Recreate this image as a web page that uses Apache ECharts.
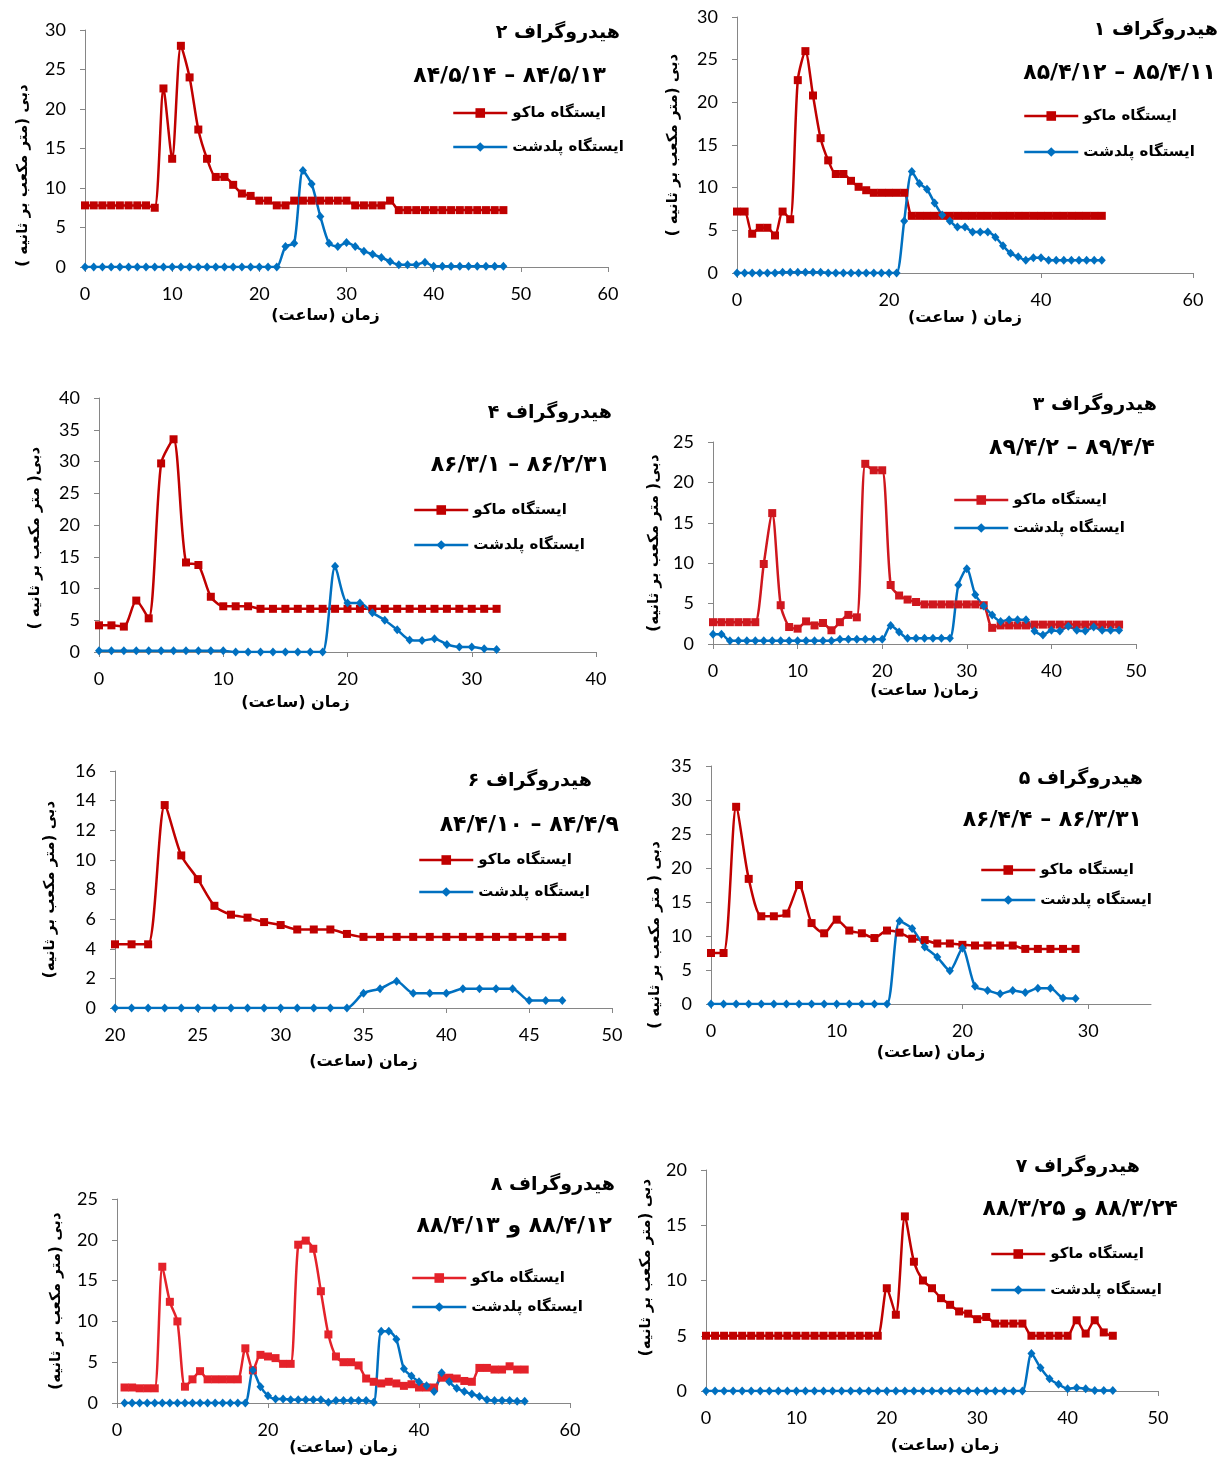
<!DOCTYPE html>
<html><head><meta charset="utf-8">
<script src="https://cdn.jsdelivr.net/npm/echarts@6/dist/echarts.min.js"></script>
<style>html,body{margin:0;padding:0;background:#fff}#c{width:1219px;height:1461px}</style>
</head><body><div id="c"></div>
<script>
// ---------- DATA ----------
const seriesNames = ['ایستگاه ماکو', 'ایستگاه پلدشت'];

// Hydrograph 1
const h1Hours = [0,1,2,3,4,5,6,7,8,9,10,11,12,13,14,15,16,17,18,19,20,21,22,23,24,25,26,27,28,29,30,31,32,33,34,35,36,37,38,39,40,41,42,43,44,45,46,47,48];
const h1Mako = [7.2,7.2,4.6,5.3,5.3,4.4,7.2,6.3,22.6,26.0,20.8,15.8,13.2,11.6,11.6,10.8,10.1,9.7,9.4,9.4,9.4,9.4,9.4,6.7,6.7,6.7,6.7,6.7,6.7,6.7,6.7,6.7,6.7,6.7,6.7,6.7,6.7,6.7,6.7,6.7,6.7,6.7,6.7,6.7,6.7,6.7,6.7,6.7,6.7];
const h1Poldasht = [0,0,0,0,0,0,0.1,0.1,0.1,0.1,0.1,0.1,0,0,0,0,0,0,0,0,0,0,6.1,11.9,10.5,9.8,8.2,6.8,6.1,5.4,5.4,4.8,4.8,4.8,4.2,3.2,2.3,1.9,1.5,1.8,1.8,1.5,1.5,1.5,1.5,1.5,1.5,1.5,1.5];

// Hydrograph 2
const h2Hours = [0,1,2,3,4,5,6,7,8,9,10,11,12,13,14,15,16,17,18,19,20,21,22,23,24,25,26,27,28,29,30,31,32,33,34,35,36,37,38,39,40,41,42,43,44,45,46,47,48];
const h2Mako = [7.8,7.8,7.8,7.8,7.8,7.8,7.8,7.8,7.5,22.6,13.7,28.0,24.0,17.4,13.7,11.4,11.4,10.4,9.3,9.0,8.4,8.4,7.8,7.8,8.4,8.4,8.4,8.4,8.4,8.4,8.4,7.8,7.8,7.8,7.8,8.4,7.2,7.2,7.2,7.2,7.2,7.2,7.2,7.2,7.2,7.2,7.2,7.2,7.2];
const h2Poldasht = [0,0,0,0,0,0,0,0,0,0,0,0,0,0,0,0,0,0,0,0,0,0,0,2.6,3.0,12.2,10.5,6.4,3.0,2.6,3.1,2.6,2.0,1.6,1.2,0.7,0.3,0.3,0.3,0.6,0.1,0.1,0.1,0.1,0.1,0.1,0.1,0.1,0.1];

// Hydrograph 3
const h3Hours = [0,1,2,3,4,5,6,7,8,9,10,11,12,13,14,15,16,17,18,19,20,21,22,23,24,25,26,27,28,29,30,31,32,33,34,35,36,37,38,39,40,41,42,43,44,45,46,47,48];
const h3Mako = [2.7,2.7,2.7,2.7,2.7,2.7,9.9,16.2,4.8,2.1,1.9,2.8,2.3,2.6,1.7,2.7,3.6,3.3,22.3,21.5,21.5,7.3,6.0,5.5,5.2,4.9,4.9,4.9,4.9,4.9,4.9,4.9,4.8,2.0,2.3,2.3,2.3,2.3,2.4,2.4,2.4,2.4,2.4,2.4,2.4,2.4,2.4,2.4,2.4];
const h3Poldasht = [1.2,1.2,0.4,0.4,0.4,0.4,0.4,0.4,0.4,0.4,0.4,0.4,0.4,0.4,0.4,0.6,0.6,0.6,0.6,0.6,0.6,2.3,1.5,0.7,0.7,0.7,0.7,0.7,0.7,7.3,9.3,6.1,4.7,3.6,2.8,3.0,3.0,3.0,1.6,1.1,1.7,1.6,2.2,1.7,1.6,2.1,1.7,1.7,1.7];

// Hydrograph 4
const h4Hours = [0,1,2,3,4,5,6,7,8,9,10,11,12,13,14,15,16,17,18,19,20,21,22,23,24,25,26,27,28,29,30,31,32];
const h4Mako = [4.2,4.2,4.0,8.1,5.3,29.7,33.5,14.1,13.7,8.7,7.2,7.2,7.2,6.8,6.8,6.8,6.8,6.8,6.8,6.8,6.8,6.8,6.8,6.8,6.8,6.8,6.8,6.8,6.8,6.8,6.8,6.8,6.8];
const h4Poldasht = [0.2,0.2,0.2,0.2,0.2,0.2,0.2,0.2,0.2,0.2,0.2,0,0,0,0,0,0,0,0,13.5,7.7,7.7,6.2,5.0,3.5,1.9,1.8,2.1,1.2,0.8,0.8,0.5,0.4];

// Hydrograph 5
const h5Hours = [0,1,2,3,4,5,6,7,8,9,10,11,12,13,14,15,16,17,18,19,20,21,22,23,24,25,26,27,28,29];
const h5Mako = [7.5,7.5,29.0,18.4,12.9,12.9,13.3,17.5,11.9,10.4,12.4,10.8,10.4,9.7,10.8,10.5,9.6,9.4,8.9,8.9,8.7,8.6,8.6,8.6,8.6,8.1,8.1,8.1,8.1,8.1];
const h5Poldasht = [0,0,0,0,0,0,0,0,0,0,0,0,0,0,0,12.2,11.1,8.4,6.9,4.9,8.2,2.6,2.0,1.5,2.0,1.7,2.3,2.3,0.9,0.8];

// Hydrograph 6
const h6Hours = [20,21,22,23,24,25,26,27,28,29,30,31,32,33,34,35,36,37,38,39,40,41,42,43,44,45,46,47];
const h6Mako = [4.3,4.3,4.3,13.7,10.3,8.7,6.9,6.3,6.1,5.8,5.6,5.3,5.3,5.3,5.0,4.8,4.8,4.8,4.8,4.8,4.8,4.8,4.8,4.8,4.8,4.8,4.8,4.8];
const h6Poldasht = [0,0,0,0,0,0,0,0,0,0,0,0,0,0,0,1.0,1.3,1.8,1.0,1.0,1.0,1.3,1.3,1.3,1.3,0.5,0.5,0.5];

// Hydrograph 7
const h7Hours = [0,1,2,3,4,5,6,7,8,9,10,11,12,13,14,15,16,17,18,19,20,21,22,23,24,25,26,27,28,29,30,31,32,33,34,35,36,37,38,39,40,41,42,43,44,45];
const h7Mako = [5.0,5.0,5.0,5.0,5.0,5.0,5.0,5.0,5.0,5.0,5.0,5.0,5.0,5.0,5.0,5.0,5.0,5.0,5.0,5.0,9.3,6.9,15.8,11.7,10.0,9.3,8.4,7.8,7.2,7.0,6.5,6.7,6.1,6.1,6.1,6.1,5.0,5.0,5.0,5.0,5.0,6.4,5.2,6.4,5.3,5.0];
const h7Poldasht = [0,0,0,0,0,0,0,0,0,0,0,0,0,0,0,0,0,0,0,0,0,0,0,0,0,0,0,0,0,0,0,0,0,0,0,0,3.4,2.1,1.1,0.6,0.2,0.3,0.2,0.05,0.05,0.05];

// Hydrograph 8
const h8Hours = [1,2,3,4,5,6,7,8,9,10,11,12,13,14,15,16,17,18,19,20,21,22,23,24,25,26,27,28,29,30,31,32,33,34,35,36,37,38,39,40,41,42,43,44,45,46,47,48,49,50,51,52,53,54];
const h8Mako = [1.9,1.9,1.8,1.8,1.8,16.7,12.4,10.0,2.0,2.9,3.9,2.9,2.9,2.9,2.9,2.9,6.7,4.0,5.9,5.7,5.5,4.8,4.8,19.4,19.9,18.9,13.7,8.4,5.7,5.0,5.0,4.6,3.0,2.6,2.4,2.6,2.4,2.1,2.3,1.9,1.9,1.9,3.1,3.1,3.0,2.7,2.6,4.3,4.3,4.1,4.1,4.5,4.1,4.1];
const h8Poldasht = [0,0,0,0,0,0,0,0,0,0,0,0,0,0,0,0,0,4.0,2.0,0.9,0.5,0.5,0.4,0.4,0.4,0.4,0.4,0.1,0.3,0.3,0.3,0.3,0.3,0.1,8.8,8.8,7.8,4.2,3.3,2.6,2.1,1.4,3.7,2.6,1.8,1.4,1.1,0.8,0.4,0.3,0.3,0.3,0.2,0.2];

// Text (dates written in visual left-to-right order)
const titles = ['هیدروگراف ۱','هیدروگراف ۲','هیدروگراف ۳','هیدروگراف ۴','هیدروگراف ۵','هیدروگراف ۶','هیدروگراف ۷','هیدروگراف ۸'];
const LRM = '\u200E';
const dates = ['۸۵/۴/۱۲ – ۸۵/۴/۱۱','۸۴/۵/۱۴ – ۸۴/۵/۱۳','۸۹/۴/۲ – ۸۹/۴/۴','۸۶/۳/۱ – ۸۶/۲/۳۱','۸۶/۴/۴ – ۸۶/۳/۳۱','۸۴/۴/۱۰ – ۸۴/۴/۹',
  LRM + '۸۸/۳/۲۵ ' + LRM + 'و' + LRM + ' ۸۸/۳/۲۴' + LRM,
  LRM + '۸۸/۴/۱۳ ' + LRM + 'و' + LRM + ' ۸۸/۴/۱۲' + LRM];
const xNames = ['زمان ( ساعت)','زمان (ساعت)','زمان( ساعت)','زمان (ساعت)','زمان (ساعت)','زمان (ساعت)','زمان (ساعت)','زمان (ساعت)'];
const yNames = ['دبی (متر مکعب بر ثانیه )','دبی (متر مکعب بر ثانیه )','دبی( متر مکعب بر ثانیه)','دبی( متر مکعب بر ثانیه )','دبی ( متر مکعب بر ثانیه )','دبی (متر مکعب بر ثانیه)','دبی (متر مکعب بر ثانیه)','دبی (متر مکعب بر ثانیه)'];

// ---------- LAYOUT / STYLE ----------
const W = 1219;
const DARK_RED = '#c00000', BLUE = '#0070c0';
const panels = [
  {h:h1Hours, a:h1Mako, b:h1Poldasht, red:DARK_RED, g:[737,17,456,256], x:[0,60,20], y:[0,30,5], tR:1218, tY:30, dR:1216, dY:73, lg:[1023,116,36], xg:34, xp:[0,0,0,0], yg:56, yp:[0,0,0,0]},
  {h:h2Hours, a:h2Mako, b:h2Poldasht, red:DARK_RED, g:[85,30,523,237], x:[0,60,10], y:[0,30,5], tR:620, tY:33, dR:606, dY:76, lg:[452,113,34], xg:41, xp:[0,42,0,0], yg:54, yp:[0,54,0,0]},
  {h:h3Hours, a:h3Mako, b:h3Poldasht, red:'#cf171e', g:[713,442,423,202], x:[0,50,10], y:[0,25,5], tR:1157, tY:405, dR:1155, dY:448, lg:[953,500,28], xg:39, xp:[0,0,0,0], yg:51, yp:[0,0,0,0]},
  {h:h4Hours, a:h4Mako, b:h4Poldasht, red:DARK_RED, g:[99,398,497,254], x:[0,40,10], y:[0,40,5], tR:612, tY:413, dR:610, dY:465, lg:[413,510,35], xg:43, xp:[0,104,0,0], yg:56, yp:[0,26,0,0]},
  {h:h5Hours, a:h5Mako, b:h5Poldasht, red:DARK_RED, g:[711,766,440,238], x:[0,35,10], y:[0,35,5], tR:1143, tY:779, dR:1142, dY:820, lg:[980,870,30], xg:41, xp:[0,0,0,0], yg:48, yp:[0,100,0,0], hideMax:true},
  {h:h6Hours, a:h6Mako, b:h6Poldasht, red:DARK_RED, g:[115,771,497,237], x:[20,50,5], y:[0,16,2], tR:592, tY:781, dR:619, dY:825, lg:[418,860,32], xg:46, xp:[0,0,0,0], yg:57, yp:[0,0,0,0]},
  {h:h7Hours, a:h7Mako, b:h7Poldasht, red:DARK_RED, g:[706,1170,452,221], x:[0,50,10], y:[0,20,5], tR:1140, tY:1167, dR:1178, dY:1209, lg:[990,1254,36], xg:47, xp:[0,0,0,26], yg:52, yp:[0,0,0,26]},
  {h:h8Hours, a:h8Mako, b:h8Poldasht, red:'#e4222a', g:[117,1199,453,204], x:[0,60,20], y:[0,25,5], tR:615, tY:1185, dR:612, dY:1226, lg:[411,1278,29], xg:33, xp:[0,0,0,0], yg:53, yp:[0,0,0,0]}
];

const FA = 'DejaVu Sans';
const NUM = 'Lato';
const axisColor = '#868686';

const option = {animation:false, backgroundColor:'#fff', title:[], legend:[], grid:[], xAxis:[], yAxis:[], series:[]};

panels.forEach((p, i) => {
  option.grid.push({left:p.g[0], top:p.g[1], width:p.g[2], height:p.g[3], containLabel:false});
  option.xAxis.push({
    gridIndex:i, type:'value', min:p.x[0], max:p.x[1], interval:p.x[2],
    axisLine:{show:true, onZero:false, lineStyle:{color:axisColor, width:1}},
    axisTick:{show:true, length:5, lineStyle:{color:axisColor}},
    splitLine:{show:false},
    axisLabel:{fontFamily:NUM, fontSize:18, color:'#000', margin:18, showMaxLabel: p.hideMax ? false : true},
    name:xNames[i], nameLocation:'middle', nameGap:p.xg,
    nameTextStyle:{fontFamily:FA, fontWeight:'bold', fontSize:16, color:'#000', padding:p.xp}
  });
  option.yAxis.push({
    gridIndex:i, type:'value', min:p.y[0], max:p.y[1], interval:p.y[2],
    axisLine:{show:true, onZero:false, lineStyle:{color:axisColor, width:1}},
    axisTick:{show:true, length:5, lineStyle:{color:axisColor}},
    splitLine:{show:false},
    axisLabel:{fontFamily:NUM, fontSize:18, color:'#000', margin:19},
    name:yNames[i], nameLocation:'middle', nameGap:p.yg,
    nameTextStyle:{fontFamily:FA, fontWeight:'bold', fontSize:15, color:'#000', padding:p.yp}
  });
  option.series.push({
    type:'line', name:seriesNames[0], xAxisIndex:i, yAxisIndex:i,
    data:p.h.map((h,k)=>[h, p.a[k]]),
    symbol:'rect', symbolSize:8, smooth:0.25,
    lineStyle:{width:2.5, color:p.red}, itemStyle:{color:p.red}
  });
  option.series.push({
    type:'line', name:seriesNames[1], xAxisIndex:i, yAxisIndex:i,
    data:p.h.map((h,k)=>[h, p.b[k]]),
    symbol:'diamond', symbolSize:[8,9], smooth:0.25,
    lineStyle:{width:2.5, color:BLUE}, itemStyle:{color:BLUE}
  });
  option.title.push({text:titles[i], right:W-p.tR, top:p.tY-12, padding:0,
    textStyle:{fontFamily:FA, fontWeight:'bold', fontSize:19, color:'#000', lineHeight:24}});
  option.title.push({text:dates[i], right:W-p.dR, top:p.dY-13, padding:0,
    textStyle:{fontFamily:FA, fontWeight:'bold', fontSize:22, color:'#000', lineHeight:26}});
  option.legend.push({
    orient:'vertical', left:p.lg[0], top:p.lg[1]-9, padding:0, itemGap:p.lg[2]-18,
    itemWidth:54, itemHeight:12, selectedMode:false,
    textStyle:{fontFamily:FA, fontWeight:'bold', fontSize:15, color:'#000', lineHeight:18},
    data:[
      {name:seriesNames[0], itemStyle:{color:p.red}, lineStyle:{color:p.red, width:2.5}},
      {name:seriesNames[1], itemStyle:{color:BLUE}, lineStyle:{color:BLUE, width:2.5}}
    ]
  });
});

const chart = echarts.init(document.getElementById('c'));
chart.setOption(option);
</script>
</body></html>
